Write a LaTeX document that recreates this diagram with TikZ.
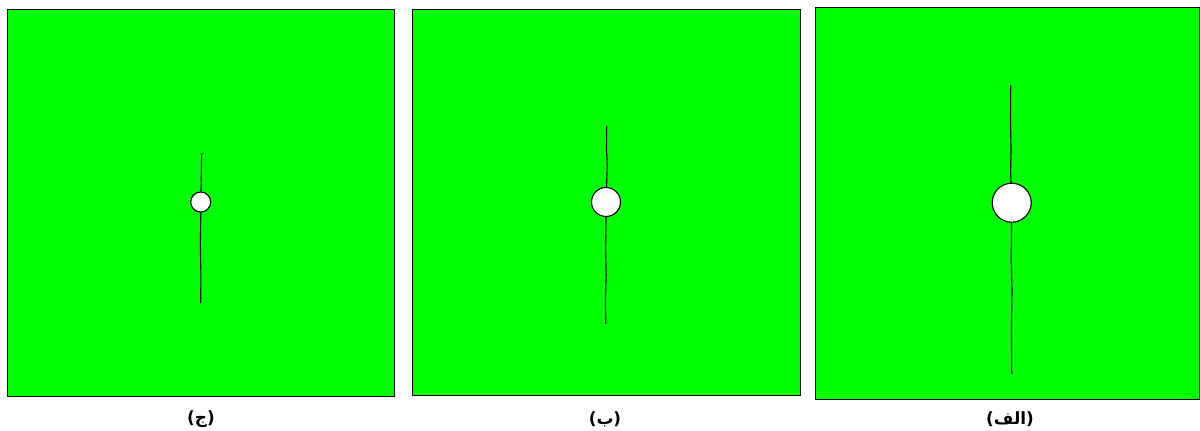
\documentclass[tikz,border=0pt]{standalone}
\usepackage{fontspec}
\newfontfamily\arabicfont[Script=Arabic]{DejaVu Sans}
\TeXXeTstate=1
\definecolor{PlateGreen}{RGB}{0,255,0}
\usepackage{tikz}
\usetikzlibrary{positioning}

\begin{document}
\begin{tikzpicture}[x=0.025cm,y=-0.025cm,
    plate/.style={draw=black, line width=0.6pt, fill=PlateGreen},
    hole/.style={draw=black, line width=0.8pt, fill=white},
    crack/.style={draw=black, line width=0.8pt},
    caption/.style={font=\arabicfont\bfseries\fontsize{12}{14}\selectfont}]
  \useasboundingbox (0,0) rectangle (1200,430);

  % plate (ج)
  \begin{scope}
    \draw[plate] (7,9) rectangle (394,396);
    \draw[crack] (201.7,153) -- (201.3,175) -- (201,192);
    \draw[crack] (200.8,212) -- (200.4,245) -- (200.9,275) -- (200.7,303);
    \draw[hole] (200.7,202) circle (10);
    \node[caption] (labelC) at (201,419) {\beginR(ج)\endR};
  \end{scope}

  % plate (ب)
  \begin{scope}
    \draw[plate] (412,9) rectangle (800,395);
    \draw[crack] (606.7,126) -- (606.5,150) -- (607.3,165) -- (606.5,188);
    \draw[crack] (606,217) -- (605.6,250) -- (606.2,275) -- (605.4,300) -- (605.8,324);
    \draw[hole] (606,202) circle (14.5);
    \node[caption] (labelB) at (605,419) {\beginR(ب)\endR};
  \end{scope}

  % plate (الف)
  \begin{scope}
    \draw[plate] (815,7) rectangle (1199,399);
    \draw[crack] (1010.7,85) -- (1010.5,120) -- (1011,150) -- (1010.6,170) -- (1011,183);
    \draw[crack] (1011.5,222) -- (1011.2,260) -- (1012,290) -- (1011.4,330) -- (1011.7,374);
    \draw[hole] (1011.7,202.7) circle (19.5);
    \node[caption] (labelA) at (1010,419) {\beginR(الف)\endR};
  \end{scope}
\end{tikzpicture}
\end{document}
